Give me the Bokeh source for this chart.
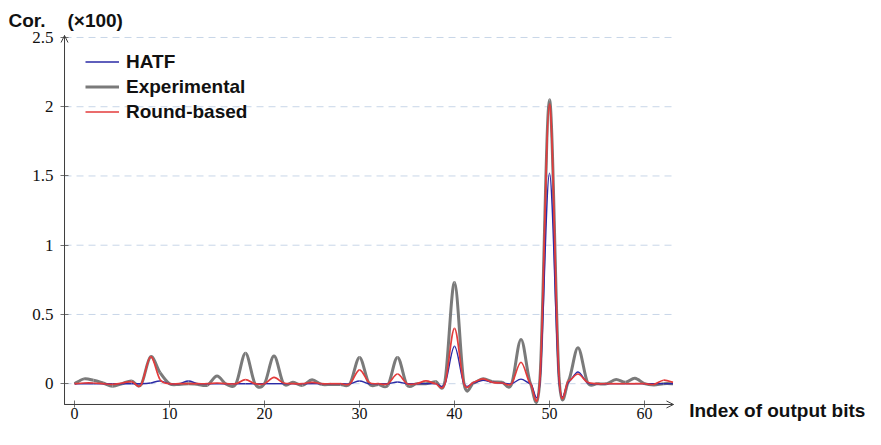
from bokeh.plotting import figure
from bokeh.models import (ColumnDataSource, Range1d, FixedTicker, Legend, LegendItem,
                          Label, Arrow, OpenHead, NumeralTickFormatter)
from bokeh.embed import file_html
from bokeh.resources import INLINE

# ---------------- data ----------------
index = list(range(64))

hatf = [0, 0, 0, 0, 0, 0, 0, 0, 0.005, 0.02,
        0, 0, 0.02, 0, 0, 0, 0, 0, 0, 0,
        0, 0, 0, 0, 0, 0, 0, 0, 0, 0,
        0.02, 0, 0, 0, 0.012, 0, 0, 0, 0, 0,
        0.27, 0, 0.005, 0.025, 0.01, 0.005, 0, 0.033, 0, 0.015,
        1.52, 0.02, 0.01, 0.085, 0.005, 0, 0, 0, 0, 0,
        0, 0, 0, 0]

experimental = [0, 0.035, 0.025, 0.005, -0.018, 0, 0.02, -0.008, 0.195, 0.08,
                0, -0.005, 0, -0.005, -0.01, 0.055, -0.005, 0, 0.22, 0,
                0, 0.2, 0, 0.01, -0.012, 0.028, -0.005, -0.005, -0.005, 0,
                0.19, 0, -0.005, -0.01, 0.19, -0.01, 0, 0, 0.015, 0.02,
                0.73, 0, 0.005, 0.035, 0.015, 0.01, -0.005, 0.32, 0, 0.04,
                2.05, 0.05, 0.02, 0.26, 0.01, 0, 0, 0.03, 0.01, 0.04,
                0, -0.01, 0, 0]

round_based = [0, 0.005, 0.005, 0, -0.005, 0.005, 0.015, -0.01, 0.195, 0.03,
               0, 0, 0, 0, 0, 0.005, 0, 0, 0.03, 0,
               0, 0.045, 0.005, 0, 0, 0.01, 0, 0, 0, 0,
               0.1, 0.01, 0, 0, 0.07, 0, 0, 0.02, 0, 0,
               0.4, 0, 0.01, 0.035, 0.01, 0.005, 0, 0.155, 0, 0.04,
               2.02, 0.05, 0.02, 0.07, 0.01, 0, 0, 0, 0, 0,
               0, -0.005, 0.025, 0.01]

series_names = ["HATF", "Experimental", "Round-based"]
yticks = [0, 0.5, 1, 1.5, 2, 2.5]
xticks = [0, 10, 20, 30, 40, 50, 60]

# axis extents (data units)
X_MIN, X_MAX = -1.05, 63.05
Y_MIN, Y_MAX = -0.15, 2.514

# ---------------- helpers ----------------
def smooth_source(xs, ys):
    """Cubic Bezier segments through the points (TikZ-like 'smooth')."""
    n = len(xs)
    d = dict(x0=[], y0=[], x1=[], y1=[], cx0=[], cy0=[], cx1=[], cy1=[])
    for i in range(n - 1):
        a = max(i - 1, 0)
        b = min(i + 2, n - 1)
        d["x0"].append(xs[i]); d["y0"].append(ys[i])
        d["x1"].append(xs[i + 1]); d["y1"].append(ys[i + 1])
        d["cx0"].append(xs[i] + (xs[i + 1] - xs[a]) / 6.0)
        d["cy0"].append(ys[i] + (ys[i + 1] - ys[a]) / 6.0)
        d["cx1"].append(xs[i + 1] - (xs[b] - xs[i]) / 6.0)
        d["cy1"].append(ys[i + 1] - (ys[b] - ys[i]) / 6.0)
    return ColumnDataSource(d)

# ---------------- figure ----------------
# frame spans the whole canvas; axes are pinned at fixed locations inside it
p = figure(width=865, height=429, output_backend="svg", toolbar_location=None,
           x_range=Range1d(-7.789, 83.263), y_range=Range1d(-0.3307, 2.767),
           min_border=0, min_border_left=0, min_border_right=0,
           min_border_top=0, min_border_bottom=0)
p.outline_line_color = None
p.background_fill_color = "white"
p.border_fill_color = "white"
p.xgrid.visible = False
p.ygrid.visible = False

# dashed horizontal grid lines, limited to the axis extent
p.segment(x0=[X_MIN] * len(yticks), y0=yticks, x1=[X_MAX] * len(yticks), y1=yticks,
          line_color="#c8d6e8", line_dash="7 5", line_width=1)

axis_col = "#404040"
for ax in (p.xaxis[0], p.yaxis[0]):
    ax.axis_line_color = axis_col
    ax.axis_line_width = 1
    ax.major_tick_line_color = "#707070"
    ax.minor_tick_line_color = None
    ax.major_label_text_font = "Liberation Serif"
    ax.major_label_text_color = "#111111"

xa = p.xaxis[0]
xa.fixed_location = Y_MIN
xa.bounds = (X_MIN, X_MAX)
xa.ticker = FixedTicker(ticks=xticks)
xa.major_tick_in = 4
xa.major_tick_out = 3
xa.major_label_standoff = 1
xa.major_label_text_font_size = "16px"

ya = p.yaxis[0]
ya.fixed_location = X_MIN
ya.bounds = (Y_MIN, Y_MAX)
ya.ticker = FixedTicker(ticks=yticks)
ya.formatter = NumeralTickFormatter(format="0.[0]")
ya.major_tick_in = 4
ya.major_tick_out = 4
ya.major_label_standoff = 7
ya.major_label_text_font_size = "17px"

# curves
c_gray = "#7a7a7a"
c_blue = "#2a2aa6"
c_red = "#e33b3b"

p.bezier(source=smooth_source(index, experimental), line_color=c_gray, line_width=3.0)
p.bezier(source=smooth_source(index, hatf), line_color=c_blue, line_width=1.4)
p.bezier(source=smooth_source(index, round_based), line_color=c_red, line_width=1.7)

# legend samples (one NaN point each, so nothing is drawn in the plot)
nan = float("nan")
lh = p.line(x=[nan], y=[nan], line_color=c_blue, line_width=1.4)
le = p.line(x=[nan], y=[nan], line_color=c_gray, line_width=3.0)
lr = p.line(x=[nan], y=[nan], line_color=c_red, line_width=1.7)
sans = "Liberation Sans"
legend = Legend(items=[LegendItem(label=series_names[0], renderers=[lh]),
                       LegendItem(label=series_names[1], renderers=[le]),
                       LegendItem(label=series_names[2], renderers=[lr])],
                location=(85, 305), margin=0, padding=0, spacing=0,
                label_height=25, glyph_height=25, glyph_width=34, label_standoff=7,
                label_text_font=sans, label_text_font_style="bold",
                label_text_font_size="19px", label_text_color="#111111",
                background_fill_alpha=0, border_line_color=None)
p.add_layout(legend)

# axis arrows
p.add_layout(Arrow(end=OpenHead(size=7, line_color=axis_col, line_width=1),
                   x_start=X_MIN, y_start=Y_MIN, x_end=X_MAX, y_end=Y_MIN,
                   line_color=axis_col, line_width=1))
p.add_layout(Arrow(end=OpenHead(size=7, line_color=axis_col, line_width=1),
                   x_start=X_MIN, y_start=Y_MIN, x_end=X_MIN, y_end=Y_MAX,
                   line_color=axis_col, line_width=1))

# axis titles
lab_kw = dict(text_font=sans, text_font_style="bold", text_font_size="19px",
              text_color="#111111", text_baseline="alphabetic")
p.add_layout(Label(x=-6.95, y=2.6226, text="Cor.", **lab_kw))
p.add_layout(Label(x=-0.74, y=2.6226, text="(×100)", **lab_kw))
p.add_layout(Label(x=64.7, y=-0.1935, text="Index of output bits", **lab_kw))

open("out.html", "w").write(file_html(p, INLINE))
